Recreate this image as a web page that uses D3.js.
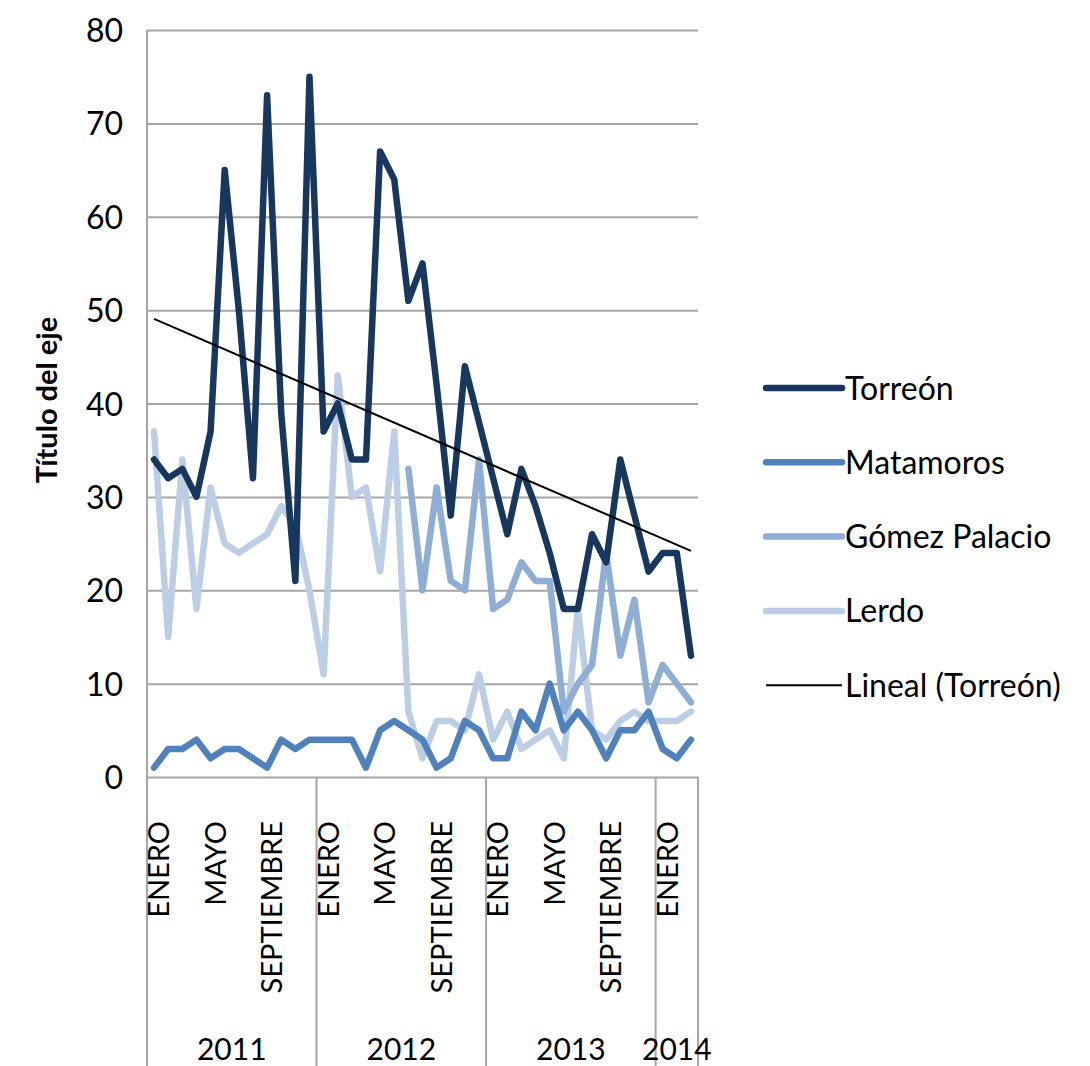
<!DOCTYPE html>
<html>
<head>
<meta charset="utf-8">
<script src="https://cdn.jsdelivr.net/npm/d3@7/dist/d3.min.js"></script>
<style>
body{margin:0;background:#fff;}
svg text{font-family:Lato,"Open Sans",sans-serif;fill:#000;}
</style>
</head>
<body>
<svg id="chart" width="1090" height="1066"></svg>
<script>
// datos mensuales, enero 2011 - marzo 2014
var months = ["ENERO","FEBRERO","MARZO","ABRIL","MAYO","JUNIO","JULIO","AGOSTO","SEPTIEMBRE","OCTUBRE","NOVIEMBRE","DICIEMBRE",
	"ENERO","FEBRERO","MARZO","ABRIL","MAYO","JUNIO","JULIO","AGOSTO","SEPTIEMBRE","OCTUBRE","NOVIEMBRE","DICIEMBRE",
	"ENERO","FEBRERO","MARZO","ABRIL","MAYO","JUNIO","JULIO","AGOSTO","SEPTIEMBRE","OCTUBRE","NOVIEMBRE","DICIEMBRE",
	"ENERO","FEBRERO","MARZO"];
var years = ["2011","2012","2013","2014"];
var monthsPerYear = [12,12,12,3];

var torreon = [34,32,33,30,37,65,50,32,73,39,21,75,37,40,34,34,67,64,51,55,42,28,44,38,32,26,33,29,24,18,18,26,23,34,28,22,24,24,13];
var matamoros = [1,3,3,4,2,3,3,2,1,4,3,4,4,4,4,1,5,6,5,4,1,2,6,5,2,2,7,5,10,5,7,5,2,5,5,7,3,2,4];
var gomezPalacio = [null,null,null,null,null,null,null,null,null,null,null,null,null,null,null,null,null,null,
	33,20,31,21,20,34,18,19,23,21,21,7,10,12,24,13,19,8,12,10,8];
var lerdo = [37,15,34,18,31,25,24,25,26,29,27,20,11,43,30,31,22,37,7,2,6,6,5,11,4,7,3,4,5,2,18,5,4,6,7,6,6,6,7];

var yTicks = [0,10,20,30,40,50,60,70,80];

var series = [
	{name:"Torreón", values:torreon, color:"#17375e"},
	{name:"Matamoros", values:matamoros, color:"#4f81bd"},
	{name:"Gómez Palacio", values:gomezPalacio, color:"#8eaed6"},
	{name:"Lerdo", values:lerdo, color:"#bccee5"}
];

var plotL = 147, plotR = 698, plotT = 30, plotB = 777;
var svg = d3.select("svg#chart");

var x = d3.scaleBand().domain(d3.range(months.length)).range([plotL,plotR]).padding(0);
var y = d3.scaleLinear().domain([0,80]).range([plotB,plotT]);
function cx(i){ return x(i) + x.bandwidth()/2; }

// rejilla y eje vertical
var gy = svg.append("g")
	.attr("transform","translate("+plotL+",0)")
	.call(d3.axisLeft(y).tickValues(yTicks).tickSize(-(plotR-plotL)).tickPadding(24));
gy.select(".domain").remove();
gy.selectAll(".tick line").attr("stroke","#a6a6a6").attr("stroke-width",2);
gy.selectAll(".tick text").style("font-size","32px").attr("dy","0.36em");

svg.append("line")
	.attr("x1",plotL).attr("x2",plotL).attr("y1",plotT).attr("y2",1066)
	.attr("stroke","#a6a6a6").attr("stroke-width",2);

// separadores de años
var bounds = [0];
monthsPerYear.forEach(function(n,k){ bounds.push(bounds[k]+n); });
svg.append("g").selectAll("line")
	.data(bounds.slice(1))
	.enter().append("line")
	.attr("x1",function(b){ return b < months.length ? x(b) : plotR; })
	.attr("x2",function(b){ return b < months.length ? x(b) : plotR; })
	.attr("y1",plotB).attr("y2",1066)
	.attr("stroke","#a6a6a6").attr("stroke-width",2);

// etiquetas de meses (cada 4)
svg.append("g").selectAll("text")
	.data(d3.range(months.length).filter(function(i){ return i%4===0; }))
	.enter().append("text")
	.attr("transform",function(i){ return "translate("+(cx(i)+5)+","+(plotB+44)+") rotate(-90)"; })
	.attr("text-anchor","end")
	.attr("dy","0.35em")
	.style("font-size","29px")
	.text(function(i){ return months[i]; });

// etiquetas de años
svg.append("g").selectAll("text")
	.data(years)
	.enter().append("text")
	.attr("x",function(d,k){
		var a = x(bounds[k]);
		var b = bounds[k+1] < months.length ? x(bounds[k+1]) : plotR;
		return (a+b)/2;
	})
	.attr("y",1060)
	.attr("text-anchor","middle")
	.style("font-size","30px")
	.text(function(d){ return d; });

// líneas
var line = d3.line()
	.defined(function(d){ return d !== null; })
	.x(function(d,i){ return cx(i); })
	.y(function(d){ return y(d); });

svg.append("g").selectAll("path")
	.data(series.slice().reverse())
	.enter().append("path")
	.attr("d",function(s){ return line(s.values); })
	.attr("fill","none")
	.attr("stroke",function(s){ return s.color; })
	.attr("stroke-width",6.5)
	.attr("stroke-linejoin","round")
	.attr("stroke-linecap","round");

// tendencia lineal de Torreón (mínimos cuadrados)
var n = torreon.length;
var mx = d3.mean(d3.range(n)), my = d3.mean(torreon);
var sxy = d3.sum(torreon, function(v,i){ return (i-mx)*(v-my); });
var sxx = d3.sum(d3.range(n), function(i){ return (i-mx)*(i-mx); });
var slope = sxy/sxx, icpt = my - slope*mx;
svg.append("line")
	.attr("x1",cx(0)).attr("y1",y(icpt))
	.attr("x2",cx(n-1)).attr("y2",y(icpt+slope*(n-1)))
	.attr("stroke","#000").attr("stroke-width",2);

// leyenda
var legend = series.map(function(s){ return {name:s.name, color:s.color, w:6.5}; });
legend.push({name:"Lineal (Torreón)", color:"#000", w:2});
var lg = svg.append("g").selectAll("g")
	.data(legend)
	.enter().append("g")
	.attr("transform",function(d,k){ return "translate(766,"+(388+k*74.3)+")"; });
lg.append("line")
	.attr("x1",0).attr("x2",76)
	.attr("stroke",function(d){ return d.color; })
	.attr("stroke-width",function(d){ return d.w; })
	.attr("stroke-linecap",function(d){ return d.w>2 ? "round" : "butt"; });
lg.append("text")
	.attr("x",79).attr("dy","0.36em")
	.style("font-size","32px")
	.text(function(d){ return d.name; });

// título del eje
svg.append("text")
	.attr("transform","translate(47,400) rotate(-90)")
	.attr("text-anchor","middle")
	.attr("dy","0.35em")
	.style("font-size","29px")
	.style("font-weight","bold")
	.text("Título del eje");
</script>
</body>
</html>
